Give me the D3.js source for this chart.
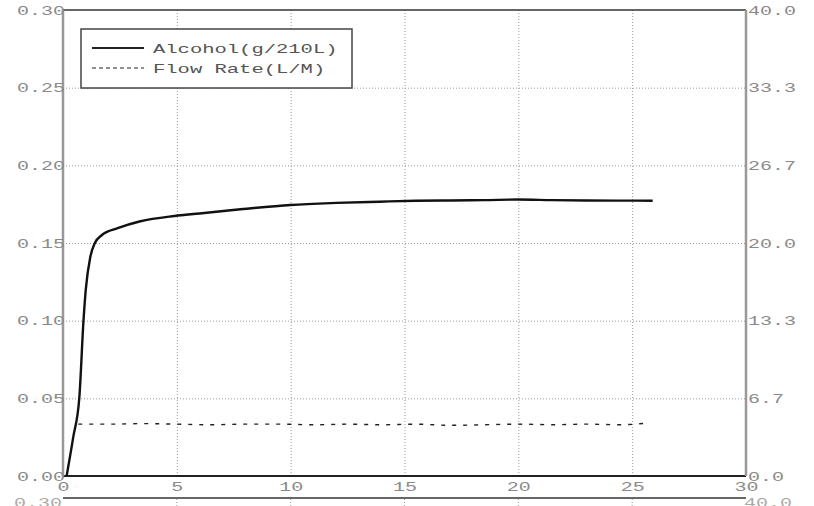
<!DOCTYPE html>
<html>
<head>
<meta charset="utf-8">
<script src="https://cdn.jsdelivr.net/npm/d3@7"></script>
<style>
  body { margin: 0; background: #fff; }
  svg { display: block; }
  .tick text { font-family: "Liberation Mono", monospace; font-size: 13.5px; fill: #8a8a8a; }
</style>
</head>
<body>
<div id="chart"></div>
<script>
// Data.
const alcoholX = [0.16, 0.45, 0.72, 0.90, 1.00, 1.20, 1.40, 1.70, 2.40, 3.40, 4.90, 6.0, 7.8, 10.0, 12.0, 13.9, 15.5, 17.0, 18.5, 20.0, 21.5, 23.0, 24.5, 25.9];
const alcoholY = [0.000, 0.025, 0.051, 0.100, 0.120, 0.141, 0.150, 0.155, 0.1595, 0.164, 0.1674, 0.169, 0.1717, 0.1745, 0.1758, 0.1766, 0.1772, 0.1774, 0.1776, 0.1780, 0.1776, 0.1774, 0.1773, 0.1772];
const flowX = [0.67, 2, 3.5, 5, 6.5, 8, 9.5, 11, 12.5, 14, 15.5, 17, 18.5, 20, 21.5, 23, 24.5, 25.7];
const flowY = [4.45, 4.45, 4.5, 4.45, 4.4, 4.45, 4.45, 4.4, 4.45, 4.4, 4.45, 4.35, 4.4, 4.45, 4.4, 4.45, 4.4, 4.55];
const xTicks = [0, 5, 10, 15, 20, 25, 30];
const yTicks = [0, 0.05, 0.10, 0.15, 0.20, 0.25, 0.30];
const y2Ticks = [0, 40 / 6, 80 / 6, 20, 160 / 6, 200 / 6, 40];
const legendNames = ["Alcohol(g/210L)", "Flow Rate(L/M)"];

const WIDTH = 814, HEIGHT = 506;
const PLOT = {'left': 63, 'right': 746, 'top': 10, 'bottom': 476};
const CHAR_W = 12;   // the scan's glyphs are stretched sideways.

function stretch(sel) {
    sel.each(function () {
        d3.select(this)
          .attr("textLength", this.textContent.length * CHAR_W)
          .attr("lengthAdjust", "spacingAndGlyphs");
    });
}

window.onload = function() {

    var svg = d3.select("#chart").append("svg")
                .attr("width", WIDTH)
                .attr("height", HEIGHT);

    var x = d3.scaleLinear().domain([0, 30]).range([PLOT.left, PLOT.right]);
    var y = d3.scaleLinear().domain([0, 0.30]).range([PLOT.bottom, PLOT.top]);
    var y2 = d3.scaleLinear().domain([0, 40]).range([PLOT.bottom, PLOT.top]);

    // Grid.
    svg.append("g")
       .attr("transform", "translate(0," + PLOT.bottom + ")")
       .call(d3.axisBottom(x).tickValues(xTicks.slice(1, -1)).tickSize(-(PLOT.bottom - PLOT.top)).tickFormat(""))
       .call(g => g.select(".domain").remove())
       .selectAll("line").attr("stroke", "#999").attr("stroke-dasharray", "1,2");

    svg.append("g")
       .attr("transform", "translate(" + PLOT.left + ",0)")
       .call(d3.axisLeft(y).tickValues(yTicks.slice(1, -1)).tickSize(-(PLOT.right - PLOT.left)).tickFormat(""))
       .call(g => g.select(".domain").remove())
       .selectAll("line").attr("stroke", "#999").attr("stroke-dasharray", "1,2");

    // Partial top frame of the next chart below.
    svg.append("line")
       .attr("x1", PLOT.left).attr("x2", PLOT.right)
       .attr("y1", 498).attr("y2", 498)
       .attr("stroke", "#333").attr("stroke-width", 1.5);
    svg.append("g")
       .selectAll("line").data(xTicks.slice(1, -1)).enter().append("line")
       .attr("x1", d => x(d)).attr("x2", d => x(d))
       .attr("y1", 499).attr("y2", 506)
       .attr("stroke", "#999").attr("stroke-dasharray", "1,2");
    svg.append("text").attr("x", 14).attr("y", 507)
       .attr("font-family", "Liberation Mono, monospace").attr("font-size", "13.5px")
       .attr("fill", "#aaa").text(d3.format(".2f")(yTicks[6])).call(stretch);
    svg.append("text").attr("x", 744).attr("y", 507)
       .attr("font-family", "Liberation Mono, monospace").attr("font-size", "13.5px")
       .attr("fill", "#aaa").text(d3.format(".1f")(y2Ticks[6])).call(stretch);

    // Frame.
    svg.append("line").attr("x1", PLOT.left).attr("x2", PLOT.right)
       .attr("y1", PLOT.top).attr("y2", PLOT.top)
       .attr("stroke", "#333").attr("stroke-width", 1.5);
    svg.append("line").attr("x1", PLOT.left).attr("x2", PLOT.right)
       .attr("y1", PLOT.bottom).attr("y2", PLOT.bottom)
       .attr("stroke", "#222").attr("stroke-width", 2);
    svg.append("line").attr("x1", PLOT.left).attr("x2", PLOT.left)
       .attr("y1", PLOT.top).attr("y2", PLOT.bottom)
       .attr("stroke", "#999").attr("stroke-width", 2.5);
    svg.append("line").attr("x1", PLOT.right).attr("x2", PLOT.right)
       .attr("y1", PLOT.top).attr("y2", PLOT.bottom)
       .attr("stroke", "#999").attr("stroke-width", 2.5);

    // Axes labels.
    svg.append("g")
       .attr("transform", "translate(" + (PLOT.left + 2) + ",0)")
       .call(d3.axisLeft(y).tickValues(yTicks).tickSize(0).tickPadding(0).tickFormat(d3.format(".2f")))
       .call(g => g.select(".domain").remove())
       .selectAll("text").call(stretch);

    svg.append("g")
       .attr("transform", "translate(" + (PLOT.right + 2) + ",0)")
       .call(d3.axisRight(y2).tickValues(y2Ticks).tickSize(0).tickPadding(0).tickFormat(d3.format(".1f")))
       .call(g => g.select(".domain").remove())
       .selectAll("text").call(stretch);

    svg.append("g")
       .attr("transform", "translate(0," + (PLOT.bottom + 3) + ")")
       .call(d3.axisBottom(x).tickValues(xTicks).tickSize(0).tickPadding(0).tickFormat(d3.format("d")))
       .call(g => g.select(".domain").remove())
       .selectAll("text").attr("dy", "0.9em").call(stretch);

    // Series.
    svg.append("path")
       .attr("d", d3.line().curve(d3.curveMonotoneX).x((d, i) => x(flowX[i])).y(d => y2(d))(flowY))
       .attr("fill", "none")
       .attr("stroke", "#222")
       .attr("stroke-width", 1.4)
       .attr("stroke-dasharray", "4,7");

    svg.append("path")
       .attr("d", d3.line().curve(d3.curveMonotoneX).x((d, i) => x(alcoholX[i])).y(d => y(d))(alcoholY))
       .attr("fill", "none")
       .attr("stroke", "#111")
       .attr("stroke-width", 2.4);

    // Legend.
    var legend = svg.append("g").attr("transform", "translate(81,29)");
    legend.append("rect")
          .attr("width", 271).attr("height", 59)
          .attr("fill", "#fff").attr("stroke", "#444").attr("stroke-width", 1.5);
    legend.selectAll(".item").data(legendNames).enter().append("g")
          .attr("transform", (d, i) => "translate(0," + (19 + i * 20) + ")")
          .each(function (d, i) {
              var g = d3.select(this);
              g.append("line").attr("x1", 11).attr("x2", 63).attr("y1", 0).attr("y2", 0)
               .attr("stroke", "#222").attr("stroke-width", i == 0 ? 1.8 : 1.2)
               .attr("stroke-dasharray", i == 0 ? null : "4,3");
              g.append("text").attr("x", 72).attr("y", 4.5)
               .attr("font-family", "Liberation Mono, monospace").attr("font-size", "13.5px")
               .attr("fill", "#555").text(d)
               .attr("textLength", d.length * 12.3).attr("lengthAdjust", "spacingAndGlyphs");
          });
};
</script>
</body>
</html>
